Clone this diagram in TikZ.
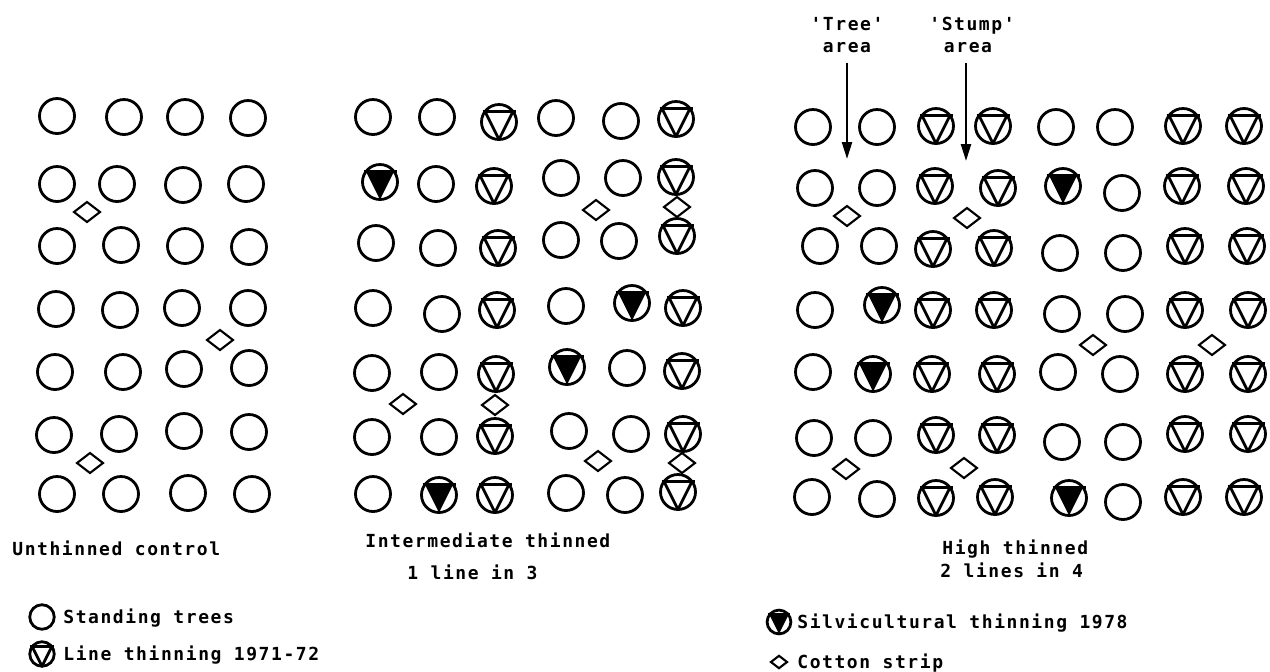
\documentclass[tikz,border=0pt]{standalone}
\usepackage{fontspec}
\setmonofont[LetterSpace=8.7]{DejaVu Sans Mono}
\usetikzlibrary{arrows.meta}
\begin{document}
\begin{tikzpicture}[x=0.5pt,y=-0.5pt,
  sym/.style={line width=1.4pt, line join=round},
  dia/.style={line width=1.05pt, line join=miter},
  lab/.style={font=\ttfamily\bfseries\fontsize{9pt}{11pt}\selectfont, inner sep=0pt, anchor=base west},
  arr/.style={line width=1.2pt, -{Triangle[width=5pt,length=8.5pt]}},
  ctree/.pic={\draw[sym] (0,0) circle[radius=17.5];},
  ltree/.pic={\draw[sym] (0,0) circle[radius=17.5];
     \draw[sym] (-16.5,-10.5) -- (16.5,-10.5);
     \draw[sym] (-14,-10.5) -- (0,17.5) -- (14,-10.5);},
  stree/.pic={\fill (-14,-10.5) -- (14,-10.5) -- (0,17.5) -- cycle;
     \draw[sym] (0,0) circle[radius=17.5];
     \draw[sym] (-16.5,-10.5) -- (16.5,-10.5);},
  cstrip/.pic={\draw[dia] (-13,0) -- (0,-10) -- (13,0) -- (0,10) -- cycle;}
]
\path[use as bounding box] (0,0) rectangle (1270,671);

% ---------- Unthinned control ----------
\foreach \x/\y in {57/116,124/117,185/117,248/118,
                   57/184,117/184,183/185,246/184,
                   57/246,121/245,185/246,249/247,
                   56/309,120/310,182/308,248/308,
                   55/372,123/372,184/369,249/368,
                   54/435,119/434,184/431,249/432,
                   57/494,121/494,188/493,252/494}
  \pic at (\x,\y) {ctree};
\foreach \x/\y in {87/212,220/340,90/463}
  \pic at (\x,\y) {cstrip};

% ---------- Intermediate thinned ----------
\foreach \x/\y in {373/117,437/117,556/118,621/121,
                   436/184,561/178,623/178,
                   376/243,438/248,561/240,619/241,
                   373/308,442/314,566/306,
                   372/373,439/372,627/368,
                   372/437,439/437,569/431,631/434,
                   373/494,566/493,625/495}
  \pic at (\x,\y) {ctree};
\foreach \x/\y in {499/122,676/119,494/186,676/177,498/248,677/236,
                   497/310,683/308,496/374,682/371,495/436,683/434,
                   495/495,678/492}
  \pic at (\x,\y) {ltree};
\foreach \x/\y in {380/182,632/303,567/367,439/495}
  \pic at (\x,\y) {stree};
\foreach \x/\y in {596/210,677/207,403/404,495/405,598/461,682/463}
  \pic at (\x,\y) {cstrip};

% ---------- High thinned ----------
\foreach \x/\y in {813/127,877/127,1056/127,1115/127,
                   815/188,877/188,1122/193,
                   820/246,879/246,1060/253,1123/253,
                   815/310,1062/314,1125/314,
                   813/372,1058/372,1120/374,
                   814/438,873/438,1062/442,1123/442,
                   812/497,877/499,1123/502}
  \pic at (\x,\y) {ctree};
\foreach \x/\y in {936/126,993/126,1183/126,1244/126,
                   935/186,998/188,1182/186,1246/186,
                   933/249,994/248,1185/246,1247/246,
                   933/310,994/310,1185/310,1248/310,
                   932/374,997/374,1185/374,1248/374,
                   936/435,997/435,1185/434,1248/434,
                   936/498,995/497,1183/497,1244/497}
  \pic at (\x,\y) {ltree};
\foreach \x/\y in {1063/186,882/305,873/374,1069/498}
  \pic at (\x,\y) {stree};
\foreach \x/\y in {847/216,967/218,1093/345,1212/345,846/469,964/468}
  \pic at (\x,\y) {cstrip};

% ---------- area labels and arrows ----------
\node[lab,anchor=base] (treelab) at (847,30) {'Tree'};
\node[lab,anchor=base] (treearea) at (847,52) {area};
\node[lab,anchor=base] (stumplab) at (972,30) {'Stump'};
\node[lab,anchor=base] (stumparea) at (968,52) {area};
\coordinate (treetip) at (847,159);
\coordinate (stumptip) at (966,161);
\draw[arr] ([yshift=-5pt]treearea.south -| treetip) -- (treetip);
\draw[arr] ([yshift=-5pt]stumparea.south -| stumptip) -- (stumptip);

% ---------- captions ----------
\node[lab] (cap1) at (12,555) {Unthinned control};
\node[lab] (cap2) at (365,547) {Intermediate thinned};
\node[lab] (cap2b) at (407,579) {1 line in 3};
\node[lab] (cap3) at (942,554) {High thinned};
\node[lab] (cap3b) at (940,577) {2 lines in 4};

% ---------- legend ----------
\pic[scale=0.7] at (42,617) {ctree};
\node[lab] (leg1) at (63,623) {Standing trees};
\pic[scale=0.7] at (42,654) {ltree};
\node[lab] (leg2) at (63,660) {Line thinning 1971-72};
\pic[scale=0.68] at (779,622) {stree};
\node[lab] (leg3) at (797,628) {Silvicultural thinning 1978};
\pic[scale=0.62] at (779,662) {cstrip};
\node[lab] (leg4) at (797,668) {Cotton strip};
\end{tikzpicture}
\end{document}
